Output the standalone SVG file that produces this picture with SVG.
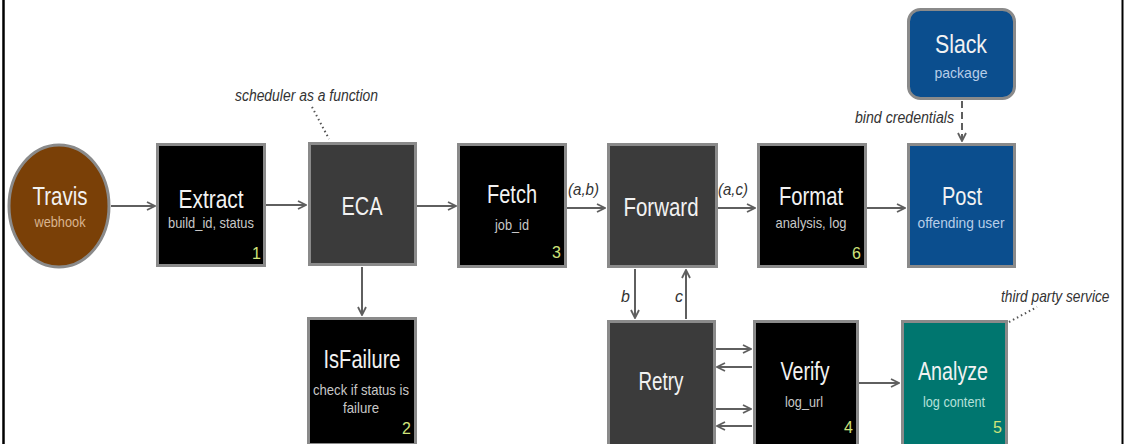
<svg xmlns="http://www.w3.org/2000/svg" width="1124" height="444" viewBox="0 0 1124 444">
  <style>
    text { font-family: "Liberation Sans", Arial, sans-serif; }
    .box { stroke: #8a8a8a; stroke-width: 3; }
    .blk { fill: #000000; }
    .drk { fill: #3b3b3b; }
    .blu { fill: #0b4e8e; }
    .tea { fill: #00766f; }
    .title { font-size: 25px; fill: #f2f2f2; text-anchor: middle; }
    .sub { font-size: 15px; fill: #c8c8c8; text-anchor: middle; }
    .num { font-size: 16px; fill: #cfe37a; text-anchor: end; }
    .lbl { font-size: 16px; font-style: italic; fill: #333333; }
    .edge { stroke: #5f5f5f; stroke-width: 2; fill: none; marker-end: url(#chev); }
    .note { stroke: #555555; stroke-width: 2; stroke-dasharray: 1.5 3; fill: none; }
  </style>
  <defs>
    <marker id="chev" viewBox="0 0 10 10" refX="9" refY="5" markerWidth="5" markerHeight="5" orient="auto" markerUnits="strokeWidth">
      <path d="M1,1 L9,5 L1,9" fill="none" stroke="#5f5f5f" stroke-width="1.8"/>
    </marker>
  </defs>

  <!-- frame edges -->
  <rect x="0" y="0" width="1124" height="444" fill="#ffffff"/>
  <line x1="3.5" y1="0" x2="3.5" y2="444" stroke="#000" stroke-width="2.5"/>
  <line x1="1122.5" y1="0" x2="1122.5" y2="444" stroke="#000" stroke-width="2"/>

  <!-- connectors -->
  <g id="connectors">
    <line class="edge" x1="111" y1="206" x2="155" y2="206"/>
    <line class="edge" x1="266" y1="205" x2="306" y2="205"/>
    <line class="edge" x1="417" y1="206" x2="456" y2="206"/>
    <line class="edge" x1="567" y1="208" x2="605" y2="208"/>
    <line class="edge" x1="718" y1="208" x2="755" y2="208"/>
    <line class="edge" x1="867" y1="208" x2="905" y2="208"/>
    <line class="edge" x1="962" y1="101" x2="962" y2="141" stroke-dasharray="7 4"/>
    <line class="edge" x1="362" y1="267" x2="362" y2="315"/>
    <line class="edge" x1="635" y1="269" x2="635" y2="318"/>
    <line class="edge" x1="686" y1="319" x2="686" y2="270"/>
    <line class="edge" x1="716" y1="349" x2="751" y2="349"/>
    <line class="edge" x1="752" y1="367" x2="717" y2="367"/>
    <line class="edge" x1="716" y1="409" x2="751" y2="409"/>
    <line class="edge" x1="752" y1="426" x2="717" y2="426"/>
    <line class="edge" x1="859" y1="383" x2="899" y2="383"/>
    <text class="lbl" x="568" y="195" textLength="31" lengthAdjust="spacingAndGlyphs">(a,b)</text>
    <text class="lbl" x="718" y="195" textLength="30" lengthAdjust="spacingAndGlyphs">(a,c)</text>
    <text class="lbl" x="855" y="123" textLength="99" lengthAdjust="spacingAndGlyphs">bind credentials</text>
    <text class="lbl" x="621" y="302">b</text>
    <text class="lbl" x="675" y="302">c</text>
    <!-- annotations -->
    <line class="note" x1="312" y1="107" x2="329" y2="139"/>
    <text class="lbl" x="235" y="101" textLength="143" lengthAdjust="spacingAndGlyphs">scheduler as a function</text>
    <line class="note" x1="1009" y1="322" x2="1037" y2="307"/>
    <text class="lbl" transform="translate(1001,302) scale(0.86,1)">third party service</text>
  </g>

  <g id="travis">
    <ellipse cx="59" cy="206" rx="50" ry="61" fill="#7a4007" stroke="#8a8a8a" stroke-width="3"/>
    <text class="title" x="60" y="205" textLength="55" lengthAdjust="spacingAndGlyphs">Travis</text>
    <text class="sub" x="60" y="227" style="fill:#d9b48f" textLength="51" lengthAdjust="spacingAndGlyphs">webhook</text>
  </g>

  <g id="extract">
    <rect class="box blk" x="157.5" y="144.5" width="107" height="121"/>
    <text class="title" x="211" y="208" textLength="65" lengthAdjust="spacingAndGlyphs">Extract</text>
    <text class="sub" x="211" y="228" textLength="86" lengthAdjust="spacingAndGlyphs">build_id, status</text>
    <text class="num" x="261" y="259">1</text>
  </g>

  <g id="eca">
    <rect class="box drk" x="309.5" y="143.5" width="106" height="121"/>
    <text class="title" x="362" y="215" textLength="41" lengthAdjust="spacingAndGlyphs">ECA</text>
  </g>

  <g id="fetch">
    <rect class="box blk" x="458.5" y="144.5" width="107" height="122"/>
    <text class="title" x="512" y="203" textLength="50" lengthAdjust="spacingAndGlyphs">Fetch</text>
    <text class="sub" x="512" y="230" textLength="34" lengthAdjust="spacingAndGlyphs">job_id</text>
    <text class="num" x="561" y="258">3</text>
  </g>

  <g id="forward">
    <rect class="box drk" x="608.5" y="144.5" width="108" height="122"/>
    <text class="title" x="661" y="216" textLength="75" lengthAdjust="spacingAndGlyphs">Forward</text>
  </g>

  <g id="format">
    <rect class="box blk" x="758.5" y="144.5" width="107" height="122"/>
    <text class="title" x="811" y="205" textLength="64" lengthAdjust="spacingAndGlyphs">Format</text>
    <text class="sub" x="811" y="228" textLength="71" lengthAdjust="spacingAndGlyphs">analysis, log</text>
    <text class="num" x="861" y="259">6</text>
  </g>

  <g id="post">
    <rect class="box blu" x="908.5" y="144.5" width="106" height="122"/>
    <text class="title" x="962" y="205" textLength="40" lengthAdjust="spacingAndGlyphs">Post</text>
    <text class="sub" x="961" y="228" style="fill:#b7cde8" textLength="87" lengthAdjust="spacingAndGlyphs">offending user</text>
  </g>

  <g id="slack">
    <rect class="box blu" x="908.5" y="9.5" width="106" height="89" rx="12"/>
    <text class="title" x="961" y="53" textLength="52" lengthAdjust="spacingAndGlyphs">Slack</text>
    <text class="sub" x="961" y="78" style="fill:#b7cde8" textLength="53" lengthAdjust="spacingAndGlyphs">package</text>
  </g>

  <g id="isfailure">
    <rect class="box blk" x="308.5" y="318.5" width="107" height="126"/>
    <text class="title" x="362" y="368" textLength="77" lengthAdjust="spacingAndGlyphs">IsFailure</text>
    <text class="sub" x="361" y="395" textLength="96" lengthAdjust="spacingAndGlyphs">check if status is</text>
    <text class="sub" x="361" y="413" textLength="36" lengthAdjust="spacingAndGlyphs">failure</text>
    <text class="num" x="411" y="434">2</text>
  </g>

  <g id="retry">
    <rect class="box drk" x="608.5" y="321.5" width="106" height="124"/>
    <text class="title" x="661" y="390" textLength="45" lengthAdjust="spacingAndGlyphs">Retry</text>
  </g>

  <g id="verify">
    <rect class="box blk" x="754.5" y="321.5" width="103" height="124"/>
    <text class="title" x="805" y="380" textLength="49" lengthAdjust="spacingAndGlyphs">Verify</text>
    <text class="sub" x="804" y="407" textLength="38" lengthAdjust="spacingAndGlyphs">log_url</text>
    <text class="num" x="853" y="433">4</text>
  </g>

  <g id="analyze">
    <rect class="box tea" x="902.5" y="321.5" width="104" height="124"/>
    <text class="title" x="953" y="380" textLength="70" lengthAdjust="spacingAndGlyphs">Analyze</text>
    <text class="sub" x="954" y="407" style="fill:#b5e0da" textLength="62" lengthAdjust="spacingAndGlyphs">log content</text>
    <text class="num" x="1002" y="433">5</text>
  </g>
</svg>
